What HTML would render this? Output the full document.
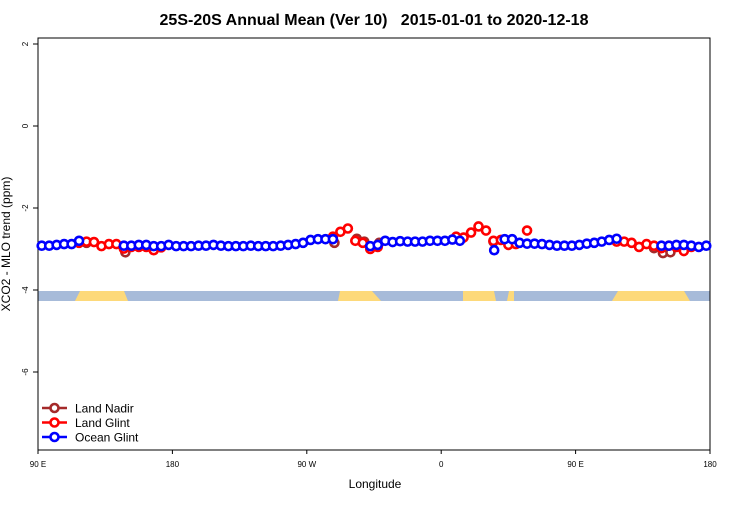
<!DOCTYPE html>
<html><head><meta charset="utf-8"><style>body{margin:0;background:#fff}svg{font-family:"Liberation Sans",sans-serif}</style></head>
<body>
<svg id="c" width="750" height="500" xmlns="http://www.w3.org/2000/svg">
<text x="374" y="25" text-anchor="middle" font-size="16" font-weight="bold" style="white-space:pre">25S-20S Annual Mean (Ver 10)   2015-01-01 to 2020-12-18</text>
<g id="map"></g>
<g id="axes"></g>
<g id="marks"></g>
<text x="375" y="488" text-anchor="middle" font-size="12">Longitude</text>
<text transform="translate(10,244) rotate(-90)" text-anchor="middle" font-size="12">XCO2 - MLO trend (ppm)</text>
<g id="legend"></g>
</svg>
<script>
const xTickLabels=["90 E","180","90 W","0","90 E","180"];
const yTicks=[2,0,-2,-4,-6];
const oceanLon=[92.5,97.5,102.5,107.5,112.5,117.5,
147.5,152.5,157.5,162.5,167.5,172.5,177.5,182.5,187.5,192.5,197.5,202.5,207.5,212.5,217.5,222.5,227.5,232.5,237.5,242.5,247.5,252.5,257.5,262.5,267.5,272.5,277.5,282.5,287.5,
312.5,317.5,322.5,327.5,332.5,337.5,342.5,347.5,352.5,357.5,362.5,367.5,372.5,
395.5,402.5,407.5,412.5,417.5,422.5,427.5,432.5,437.5,442.5,447.5,452.5,457.5,462.5,467.5,472.5,477.5,
507.5,512.5,517.5,522.5,527.5,532.5,537.5];
const oceanVal=[-2.92,-2.92,-2.9,-2.88,-2.88,-2.8,
-2.92,-2.92,-2.9,-2.9,-2.93,-2.93,-2.9,-2.93,-2.93,-2.93,-2.92,-2.92,-2.9,-2.92,-2.93,-2.93,-2.93,-2.92,-2.93,-2.93,-2.93,-2.92,-2.9,-2.88,-2.85,-2.78,-2.76,-2.76,-2.76,
-2.93,-2.9,-2.8,-2.83,-2.81,-2.82,-2.82,-2.82,-2.8,-2.8,-2.8,-2.77,-2.8,
-3.03,-2.76,-2.76,-2.85,-2.87,-2.87,-2.88,-2.9,-2.92,-2.92,-2.92,-2.9,-2.87,-2.85,-2.82,-2.78,-2.75,
-2.92,-2.92,-2.9,-2.9,-2.92,-2.95,-2.92];
const glintLon=[117.5,122.5,127.5,132.5,137.5,142.5,147.5,152.5,157.5,162.5,167.5,172.5,
287.5,292.5,297.5,302.5,307.5,312.5,317.5,
370,375,380,385,390,395,400,405,410,417.5,
477.5,482.5,487.5,492.5,497.5,502.5,507.5,512.5,517.5,522.5,527.5];
const glintVal=[-2.85,-2.82,-2.83,-2.93,-2.88,-2.88,-2.99,-2.95,-2.95,-2.95,-3.03,-2.96,
-2.7,-2.58,-2.5,-2.8,-2.85,-3.0,-2.95,
-2.7,-2.72,-2.6,-2.45,-2.55,-2.8,-2.78,-2.9,-2.88,-2.55,
-2.82,-2.82,-2.85,-2.95,-2.88,-2.92,-2.98,-2.92,-2.95,-3.05,-2.95];
const nadirLon=[122.5,148.5,288.5,303.5,308.5,318.5,395,502.5,508.5,513.5];
const nadirVal=[-2.85,-3.08,-2.85,-2.75,-2.82,-2.85,-2.82,-2.98,-3.1,-3.08];
const NS="http://www.w3.org/2000/svg";
const X0=38,X1=710,Y0=38,Y1=450;
const xs=l=>X0+(l-90)/450*(X1-X0);
const ys=v=>126-v*41;
function mk(t,a,p){const e=document.createElementNS(NS,t);for(const k in a)e.setAttribute(k,a[k]);p.appendChild(e);return e;}
const map=document.getElementById('map');
let r=mk('rect',{x:X0,y:291,width:X1-X0,height:10,fill:'#a7bbd9'},map);


[[75,128,80,124],[338,381,340,372],[463,496,463,494],[507,514,509,514],[612,690,618,684]].forEach(s=>{
 const p=mk('polygon',{points:`${s[2]},291 ${s[3]},291 ${s[1]},301 ${s[0]},301`,fill:'#fdd97a'},map);
 
 
});
const ax=document.getElementById('axes');
mk('rect',{x:X0,y:Y0,width:X1-X0,height:Y1-Y0,fill:'none',stroke:'#000','stroke-width':1},ax);
xTickLabels.forEach((t,i)=>{const lon=90+i*90;const x=xs(lon);
 mk('line',{x1:x,x2:x,y1:Y1,y2:Y1+4,stroke:'#000'},ax);
 const tx=mk('text',{x:x,y:Y1+17,'text-anchor':'middle','font-size':8},ax);tx.textContent=t;
 
 });
yTicks.forEach(v=>{const y=ys(v);
 mk('line',{x1:X0-5,x2:X0,y1:y,y2:y,stroke:'#000'},ax);
 const tx=mk('text',{transform:`translate(28,${y}) rotate(-90)`,'text-anchor':'middle','font-size':8},ax);tx.textContent=v;
 
 });
const mg=document.getElementById('marks');
function series(lon,val,col,name){lon.forEach((l,i)=>{
 const c=mk('circle',{cx:xs(l),cy:ys(val[i]),r:4,fill:'#fff',stroke:col,'stroke-width':2.6},mg);
 
 });}
series(nadirLon,nadirVal,'#a52a2a','land-nadir-point');
series(glintLon,glintVal,'#ff0000','land-glint-point');
series(oceanLon,oceanVal,'#0000ff','ocean-glint-point');
const lg=document.getElementById('legend');
[['Land Nadir','#a52a2a'],['Land Glint','#ff0000'],['Ocean Glint','#0000ff']].forEach((e,i)=>{
 const y=408+i*14.5;
 const g=mk('g',{},lg);
 
 
 mk('line',{x1:42,x2:67,y1:y,y2:y,stroke:e[1],'stroke-width':2.6},g);
 mk('circle',{cx:54.5,cy:y,r:4,fill:'#fff',stroke:e[1],'stroke-width':2.6},g);
 const t=mk('text',{x:75,y:y+4.5,'font-size':12},g);t.textContent=e[0];
});
</script>
</body></html>
